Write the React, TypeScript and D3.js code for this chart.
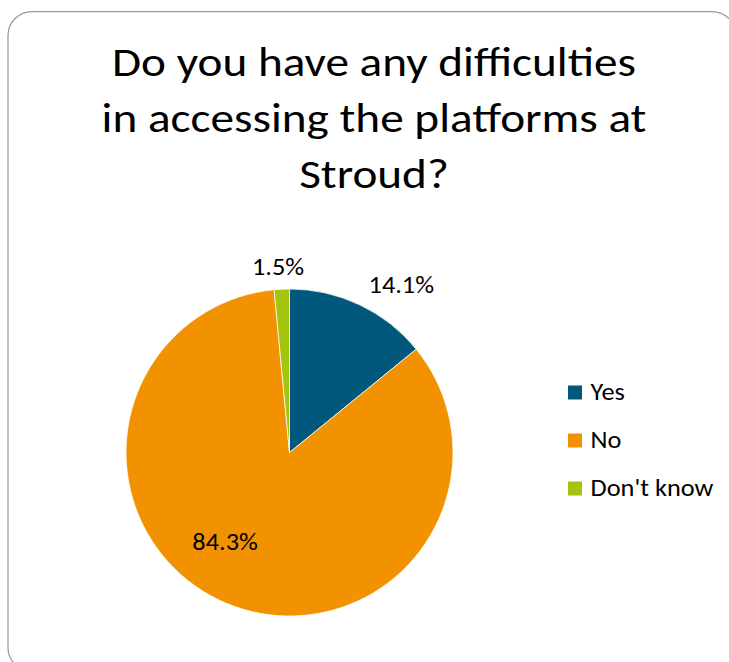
import React from "react";
import * as d3 from "d3";

const categories = ["Yes", "No", "Don't know"];
const values = [14.1, 84.3, 1.5];
const colors = ["#00587C", "#F39200", "#A5C30F"];
const title = ["Do you have any difficulties", "in accessing the platforms at", "Stroud?"];

const W = 729;
const H = 662;
const FONT = "Carlito, Calibri, 'Open Sans', sans-serif";
const TITLE_SX = 1.125;
const TXT_SX = 1.075;

export default function App() {
  const cx = 289.5;
  const cy = 452.5;
  const r = 163.5;
  const data = categories.map((c, i) => ({ c, v: values[i], color: colors[i] }));
  const pie = d3.pie<any>().value((d) => d.v).sort(null);
  const arcs = pie(data);
  const arc = d3.arc<any>().innerRadius(0).outerRadius(r);
  const total = d3.sum(values);
  const labelSize = 24.5;

  // returns center of label (x) and baseline (y)
  const labelPos = (a: any) => {
    const mid = (a.startAngle + a.endAngle) / 2;
    const share = a.data.v / total;
    const capH = labelSize * 0.632;
    if (share > 0.5) {
      const ang = mid + 0.225;
      const rr = r * 0.677;
      const x = cx + rr * Math.sin(ang);
      const yc = cy - rr * Math.cos(ang);
      return { x, y: yc + capH / 2 };
    }
    const rr = r + 12;
    const ax = cx + rr * Math.sin(mid);
    const ay = cy - rr * Math.cos(mid);
    const label = a.data.v.toFixed(1) + "%";
    const w = label.length * 12.6;
    const h = 20;
    const x = ax + Math.sin(mid) * w * 1.35;
    const yc = ay - Math.cos(mid) * h / 2;
    return { x, y: yc + capH / 2 };
  };

  return (
    <svg width={W} height={H} style={{ position: "absolute", left: 0, top: 0 }}>
      <rect x={0} y={0} width={W} height={H} fill="#fff" />
      <rect x={8} y={11.5} width={728} height={660} rx={24} ry={24} fill="#fff" stroke="#999" strokeWidth={1.25} />
      <g fontFamily={FONT} fill="#000">
        {title.map((t, i) => (
          <text
            key={i}
            transform={`translate(374,${76 + i * 56}) scale(${TITLE_SX},1)`}
            textAnchor="middle"
            fontSize={42}
          >
            {t}
          </text>
        ))}
      </g>
      <g>
        {arcs.map((a, i) => (
          <path
            key={i}
            d={arc(a) as string}
            transform={`translate(${cx},${cy})`}
            fill={a.data.color}
            stroke="#fff"
            strokeWidth={0.75}
          />
        ))}
      </g>
      <g fontFamily={FONT} fontSize={labelSize} fill="#000">
        {arcs.map((a, i) => {
          const p = labelPos(a);
          return (
            <text key={i} transform={`translate(${p.x},${p.y}) scale(${TXT_SX},1)`} textAnchor="middle">
              {a.data.v.toFixed(1) + "%"}
            </text>
          );
        })}
      </g>
      <g fontFamily={FONT} fontSize={labelSize} fill="#000">
        {categories.map((c, i) => (
          <g key={c} transform={`translate(568,${400 + i * 48})`}>
            <rect x={0} y={-14.5} width={14} height={14} fill={colors[i]} />
            <text transform={`translate(22.5,0) scale(${TXT_SX},1)`}>{c}</text>
          </g>
        ))}
      </g>
    </svg>
  );
}
